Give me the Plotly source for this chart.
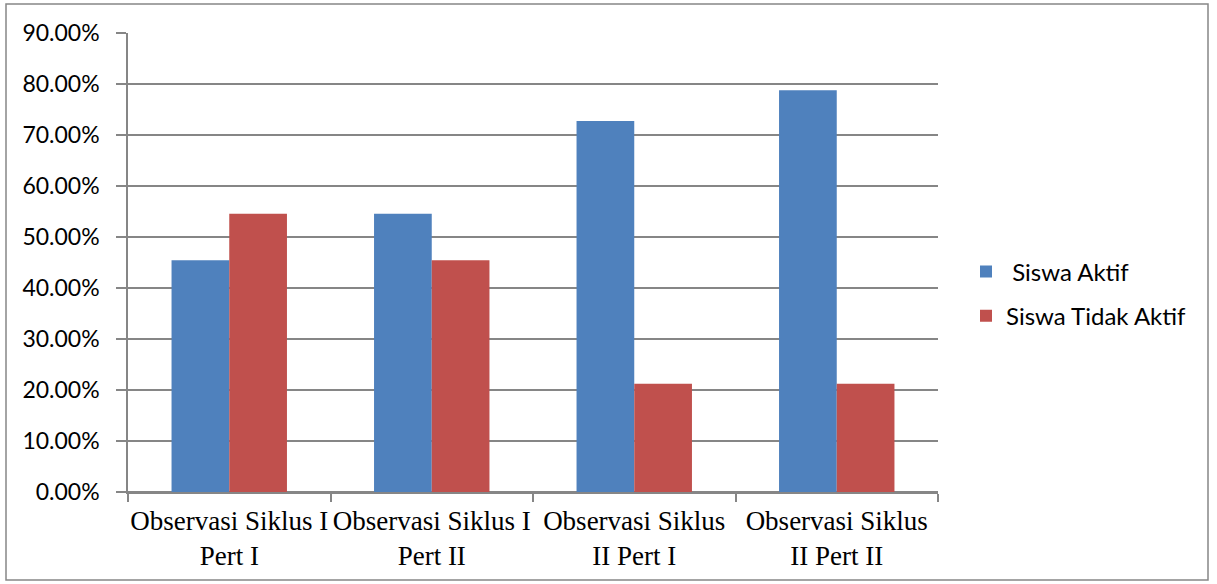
import plotly.graph_objects as go

# Observation categories (two-line tick labels)
categories = [
    "Observasi Siklus I<br>Pert I",
    "Observasi Siklus I<br>Pert II",
    "Observasi Siklus<br>II Pert I",
    "Observasi Siklus<br>II Pert II",
]
siswa_aktif = [0.4545, 0.5455, 0.7273, 0.7879]
siswa_tidak_aktif = [0.5455, 0.4545, 0.2121, 0.2121]

blue = "#4F81BD"
red = "#C0504D"
grid = "#868686"

fig = go.Figure()
fig.add_trace(go.Bar(name=" Siswa Aktif", x=categories, y=siswa_aktif,
                     marker=dict(color=blue, line=dict(width=0)), legendgroup="a"))
fig.add_trace(go.Bar(name="Siswa Tidak Aktif", x=categories, y=siswa_tidak_aktif,
                     marker=dict(color=red, line=dict(width=0)), legendgroup="b"))

# plot-area geometry in pixels
W, H = 1217, 584
L, R, T, B = 128, 938, 33, 492
pw, ph = R - L, B - T

def px_x(x):
    return (x - L) / pw

def px_y(y):
    return (B - y) / ph

fig.update_layout(
    width=W, height=H,
    margin=dict(l=L, r=W - R, t=T, b=H - B, autoexpand=False),
    paper_bgcolor="white", plot_bgcolor="white",
    barmode="group", bargap=0.43, bargroupgap=0,
    font=dict(family="Lato, Open Sans, sans-serif", size=23, color="#000000"),
    legend=dict(x=px_x(966), y=px_y(294), xanchor="left", yanchor="middle",
                font=dict(family="Lato, Open Sans, sans-serif", size=24),
                tracegroupgap=10, bgcolor="rgba(0,0,0,0)"),
    xaxis=dict(
        showline=True, linecolor=grid, linewidth=1.5,
        ticks="outside", ticklen=8, tickcolor=grid, tickwidth=1.5,
        tickson="boundaries", showgrid=False, tickangle=0,
        tickfont=dict(family="Liberation Serif, Times New Roman, serif", size=27),
        ticklabelstandoff=4,
    ),
    yaxis=dict(
        range=[0, 0.9], dtick=0.1, tickformat=".2%",
        showline=True, linecolor=grid, linewidth=1.5,
        ticks="outside", ticklen=10, tickcolor=grid, tickwidth=1.5,
        showgrid=True, gridcolor=grid, gridwidth=1.5,
        zeroline=True, zerolinecolor=grid, zerolinewidth=1.5,
        ticklabelstandoff=12,
    ),
    shapes=[dict(type="rect", xref="paper", yref="paper",
                 x0=px_x(6), x1=px_x(1208), y0=px_y(580), y1=px_y(4),
                 line=dict(color="#878787", width=1.5), layer="below")],
)

fig.write_html("out.html")
